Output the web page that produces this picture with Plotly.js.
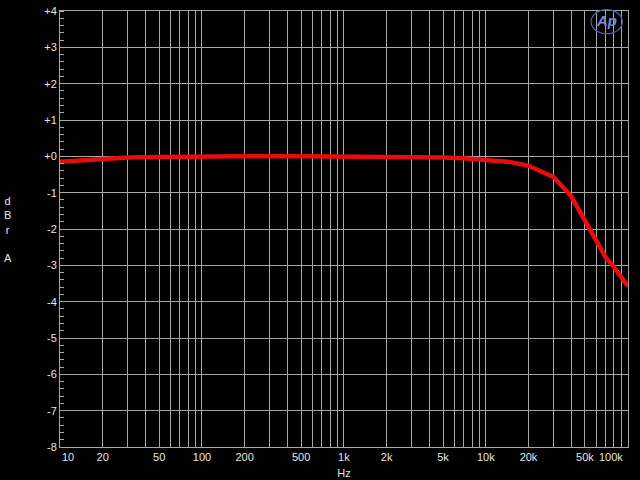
<!DOCTYPE html>
<html>
<head>
<meta charset="utf-8">
<script src="https://cdn.plot.ly/plotly-3.0.1.min.js"></script>
<style>html,body{margin:0;padding:0;background:#000;}#chart{width:640px;height:480px;}</style>
</head>
<body>
<div id="chart"></div>
<script>
// Frequency (Hz) and level (dBrA)
const freqHz = [10, 15, 20, 30, 50, 80, 100, 200, 500, 1000, 2000, 3000, 4000, 5000, 7000, 10000, 15000, 20000, 30000, 40000, 50000, 60000, 70000, 80000, 90000, 100000];
const levelDb = [-0.15, -0.10, -0.07, -0.03, -0.02, -0.01, 0, 0, 0, 0, 0, 0, -0.01, -0.03, -0.05, -0.09, -0.16, -0.26, -0.57, -1.10, -1.75, -2.30, -2.78, -3.05, -3.30, -3.57];

// Axis ticks
const xGridVals = [];
for (let d = 10; d <= 100000; d *= 10) {
  for (let m = 1; m <= 9; m++) { const v = m * d; if (v <= 100000) xGridVals.push(v); }
}
const xLabelMap = {20:'20', 50:'50', 100:'100', 200:'200', 500:'500', 1000:'1k', 2000:'2k', 5000:'5k', 10000:'10k', 20000:'20k', 50000:'50k'};
const xEdgeLabels = [{v:10, t:'10'}, {v:100000, t:'100k'}];
const yTickVals = [4, 3, 2, 1, 0, -1, -2, -3, -4, -5, -6, -7, -8];
const yTickText = ['+4', '+3', '+2', '+1', '+0', '-1', '-2', '-3', '-4', '-5', '-6', '-7', '-8'];

const gridColor = '#a8a8a8';
const textColor = '#e6e6e6';
const fontFam = 'Liberation Sans, Arial, sans-serif';

const trace = {
  x: freqHz, y: levelDb, type: 'scatter', mode: 'lines',
  line: {color: 'rgb(232,12,12)', width: 4.5}, hoverinfo: 'skip'
};

const annotations = xEdgeLabels.map((e, i) => ({
  x: Math.log10(e.v), y: 0, xref: 'x', yref: 'paper', yanchor: 'top',
  xanchor: i === 0 ? 'left' : 'right', xshift: i === 0 ? 0 : -3, yshift: -2,
  text: e.t, showarrow: false, font: {family: fontFam, size: 11, color: textColor}
}));
annotations.push({
  x: -0.092, y: 0.5, xref: 'paper', yref: 'paper', xanchor: 'center', yanchor: 'middle',
  text: 'd<br>B<br>r<br><br>A', showarrow: false, align: 'center',
  font: {family: fontFam, size: 11, color: textColor}
});
annotations.push({
  x: 0.963, y: 0.978, xref: 'paper', yref: 'paper', xanchor: 'center', yanchor: 'middle',
  text: '<i><b>Ap</b></i>', showarrow: false,
  font: {family: fontFam, size: 15, color: '#7a88d8'}
});

const layout = {
  width: 640, height: 480,
  paper_bgcolor: '#000', plot_bgcolor: '#000',
  margin: {l: 60, r: 12, t: 11, b: 33},
  showlegend: false,
  font: {family: fontFam, size: 11, color: textColor},
  xaxis: {
    type: 'log', range: [1, 5.002],
    tickmode: 'array', tickvals: xGridVals,
    ticktext: xGridVals.map(v => xLabelMap[v] || ''),
    showgrid: true, gridcolor: gridColor, gridwidth: 1,
    showline: true, linecolor: gridColor, linewidth: 1, mirror: true,
    ticks: '', zeroline: false,
    tickfont: {family: fontFam, size: 11, color: textColor},
    title: {text: 'Hz', standoff: 7, font: {family: fontFam, size: 11, color: textColor}}
  },
  yaxis: {
    range: [-8, 4],
    tickmode: 'array', tickvals: yTickVals, ticktext: yTickText,
    showgrid: true, gridcolor: gridColor, gridwidth: 1,
    showline: true, linecolor: gridColor, linewidth: 1, mirror: true,
    ticks: '', zeroline: false,
    tickfont: {family: fontFam, size: 11, color: textColor},
    minor: {dtick: 0.2, ticks: 'inside', ticklen: 4, tickcolor: gridColor, showgrid: false}
  },
  shapes: [{
    type: 'circle', xref: 'paper', yref: 'paper',
    x0: 0.935, x1: 0.99, y0: 0.948, y1: 1.003,
    line: {color: '#5060b0', width: 1.2}
  }],
  annotations: annotations
};

Plotly.newPlot('chart', [trace], layout, {staticPlot: true, displayModeBar: false});
</script>
</body>
</html>
